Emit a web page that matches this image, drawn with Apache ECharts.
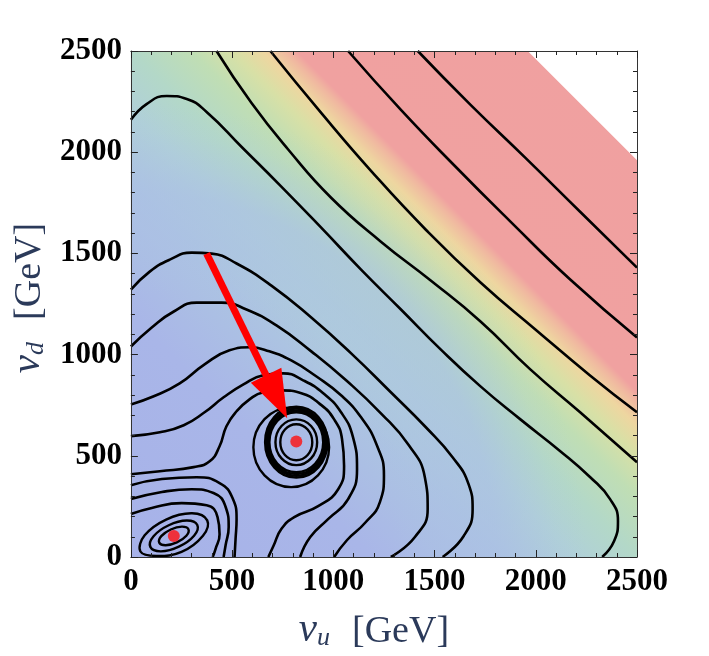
<!DOCTYPE html>
<html>
<head>
<meta charset="utf-8">
<script src="https://cdn.jsdelivr.net/npm/echarts@6/dist/echarts.min.js"></script>
<style>
  html, body { margin: 0; padding: 0; background: #fff; }
  #chart { width: 709px; height: 656px; }
</style>
</head>
<body>
<div id="chart"></div>
<script>
// axes (GeV)
const axisMin = 0;
const axisMax = 2500;
const majorStep = 500;

// background colour read along v_u + v_d (at the plot edges)
const bgSum = [0, 1200, 1800, 2200, 2500, 2800, 3000, 3150, 3260, 3320, 5000];
const bgColor = ['#a7b2e9', '#a9b6e8', '#acc3e2', '#b0d0d8', '#b3d8c8', '#c0deb4',
  '#d8e0a6', '#eed6a0', '#f0b8a0', '#f0a1a0', '#f0a0a0'];
// light-blue tint along the diagonal, by distance from the origin
const tintRadius = [0, 1300, 1600, 1800, 1950, 2100, 2250];
const tintAlpha = [0, 0, 0.5, 0.6, 0.3, 0.08, 0];
// top-right corner where the potential is not plotted
const blankRegion = [[1960, 2500], [2500, 2500], [2500, 1960]];

// open contour lines, [v_u, v_d] in GeV
const lineR1 = [[1417, 2500], [1678, 2234], [1949, 1972], [2219, 1706], [2500, 1430]];
const lineR2 = [[1073, 2500], [1334, 2209], [1604, 1928], [1875, 1657], [2170, 1371], [2500, 1085]];
const lineY1 = [[689, 2500], [940, 2194], [1186, 1908], [1457, 1617], [1727, 1356], [1998, 1124], [2268, 897], [2500, 715]];
const lineG1 = [[423, 2500], [595, 2244], [778, 2012], [989, 1775], [1235, 1558], [1481, 1366], [1727, 1164], [1973, 927], [2219, 715], [2500, 468]];
const lineC1 = [[0, 2160], [79, 2239], [177, 2278], [276, 2263], [374, 2199], [546, 2027], [743, 1830], [940, 1627], [1137, 1420], [1334, 1223], [1530, 1026], [1727, 843], [1924, 680], [2121, 523], [2269, 394], [2367, 286], [2406, 178], [2387, 79], [2328, 0]];
const lineD1 = [[0, 1321], [93, 1410], [192, 1469], [300, 1504], [399, 1499], [522, 1450], [694, 1341], [891, 1183], [1088, 1006], [1284, 814], [1457, 641], [1589, 493], [1668, 360], [1688, 237], [1644, 104], [1540, 0]];
const lineD2 = [[0, 1040], [103, 1134], [212, 1213], [325, 1257], [448, 1257], [571, 1223], [719, 1144], [891, 1016], [1063, 873], [1235, 710], [1373, 552], [1452, 394], [1466, 237], [1403, 99], [1284, 0]];
const lineD3 = [[0, 754], [113, 794], [241, 858], [364, 952], [487, 1021], [586, 1036], [684, 1016], [792, 971], [915, 893], [1038, 799], [1137, 690], [1215, 552], [1250, 404], [1230, 271], [1156, 168], [1068, 84], [1004, 0]];
const lineD4 = [[0, 597], [143, 616], [261, 651], [364, 715], [458, 789], [556, 853], [654, 898], [753, 907], [851, 873], [950, 809], [1038, 715], [1097, 592], [1117, 434], [1073, 286], [974, 187], [886, 99], [836, 0]];
const lineD5 = [[0, 409], [143, 424], [310, 444], [389, 473], [438, 547], [472, 646], [522, 720], [586, 779], [654, 814], [743, 823], [842, 809], [930, 759], [1004, 680], [1043, 582], [1053, 449], [1024, 335], [925, 251], [807, 197], [743, 138], [704, 54], [679, 0]];
const lineE4 = [[0, 212], [103, 242], [251, 266], [374, 256], [428, 197], [438, 113], [418, 39], [404, 0]];
const lineE5 = [[0, 286], [153, 321], [300, 335], [408, 316], [468, 247], [483, 148], [468, 59], [458, 0]];
const lineE6 = [[0, 355], [153, 385], [325, 394], [438, 365], [502, 291], [522, 187], [517, 89], [512, 0]];

// closed contours around the two minima
const ringA1 = [[284, 137], [252, 150], [197, 136], [150, 103], [140, 71], [172, 58], [227, 72], [274, 105]];
const ringA2 = [[328, 158], [276, 180], [187, 157], [112, 103], [96, 50], [148, 28], [237, 51], [312, 105]];
const ringA3 = [[377, 181], [302, 216], [174, 185], [68, 107], [47, 27], [125, 5], [250, 25], [356, 105]];
const ringB1 = [[896, 567], [873, 630], [817, 656], [761, 630], [738, 567], [761, 504], [817, 478], [873, 504]];
const ringB2 = [[920, 567], [890, 647], [817, 680], [744, 647], [714, 567], [744, 487], [817, 454], [890, 487]];
const ringB3 = [[950, 567], [911, 672], [817, 715], [723, 672], [684, 567], [723, 462], [817, 419], [911, 462]];
const ringB4 = [[957, 567], [916, 678], [817, 724], [718, 678], [677, 567], [718, 456], [817, 410], [916, 456]];
const ringB5 = [[964, 567], [921, 684], [817, 733], [713, 684], [670, 567], [713, 450], [817, 401], [921, 450]];
const ringB6 = [[971, 567], [926, 691], [817, 742], [708, 691], [663, 567], [708, 443], [817, 392], [926, 443]];
const ringB7 = [[979, 542], [924, 681], [792, 739], [660, 681], [605, 542], [660, 403], [792, 345], [924, 403]];

const minima = [[212, 104], [817, 571]];
const arrowFrom = [374, 1499];
const arrowTo = [772, 685];

const openLines = [lineR1, lineR2, lineY1, lineG1, lineC1, lineD1, lineD2, lineD3, lineD4, lineD5, lineE4, lineE5, lineE6];
const rings = [ringA1, ringA2, ringA3, ringB1, ringB2, ringB3, ringB4, ringB5, ringB6, ringB7];

const serif = '"Liberation Serif", "Times New Roman", serif';
const titleColor = '#2b3a5a';

const labelStyle = { fontFamily: serif, fontWeight: 'bold', fontSize: 31, color: '#000' };
const tickStyle = { inside: true, length: 7, lineStyle: { color: '#222', width: 1 } };
const minorStyle = { show: true, splitNumber: 5, length: 4, lineStyle: { color: '#222', width: 1 } };
const lineStyleAxis = { show: true, onZero: false, lineStyle: { color: '#333', width: 1 } };

const nameRich = {
  v: { fontFamily: serif, fontStyle: 'italic', fontSize: 41, color: titleColor, verticalAlign: 'bottom', lineHeight: 44 },
  s: { fontFamily: serif, fontStyle: 'italic', fontSize: 26, color: titleColor, verticalAlign: 'bottom', lineHeight: 32 },
  g: { fontFamily: serif, fontSize: 38, color: titleColor, verticalAlign: 'bottom', lineHeight: 44, padding: [0, 0, 0, 22] }
};

function axisPair(kind) {
  const base = {
    type: 'value', min: axisMin, max: axisMax, interval: majorStep, z: 10,
    axisLine: lineStyleAxis, axisTick: tickStyle, minorTick: minorStyle,
    splitLine: { show: false }, minorSplitLine: { show: false }
  };
  const main = Object.assign({}, base, {
    position: kind === 'x' ? 'bottom' : 'left',
    axisLabel: Object.assign({ margin: 9, formatter: v => String(v) }, labelStyle),
    name: kind === 'x' ? '{v|v}{s|u}{g|[GeV]}' : '{v|v}{s|d}{g|[GeV]}',
    nameLocation: 'middle',
    nameGap: kind === 'x' ? 50 : 75,
    nameTextStyle: { rich: nameRich, padding: kind === 'x' ? [0, 20, 0, 0] : [0, 0, 0, 12] }
  });
  const mirror = Object.assign({}, base, {
    position: kind === 'x' ? 'top' : 'right',
    axisLabel: { show: false }
  });
  return [main, mirror];
}

const chart = echarts.init(document.getElementById('chart'), null, { renderer: 'canvas' });

const series = [];

// smooth colour background of the plot square
series.push({
  type: 'custom', coordinateSystem: 'cartesian2d', silent: true, z: 0,
  data: [[axisMin, axisMin]],
  renderItem: function (params, api) {
    const p0 = api.coord([axisMin, axisMin]);
    const p1 = api.coord([axisMax, axisMax]);
    const rect = { x: p0[0], y: p1[1], width: p1[0] - p0[0], height: p0[1] - p1[1] };
    const stops = bgSum.map((s, i) => ({ offset: s / (2 * axisMax), color: bgColor[i] }));
    const tint = tintRadius.map((r, i) => ({ offset: r / axisMax, color: 'rgba(171,192,229,' + tintAlpha[i] + ')' }));
    const blank = blankRegion.map(p => api.coord(p));
    return {
      type: 'group',
      children: [
        { type: 'rect', shape: rect, style: { fill: new echarts.graphic.LinearGradient(0, 1, 1, 0, stops) } },
        { type: 'rect', shape: rect, style: { fill: new echarts.graphic.RadialGradient(p0[0], p0[1], rect.width, tint, true) } },
        { type: 'polygon', shape: { points: blank }, style: { fill: '#fff' } }
      ]
    };
  }
});

openLines.forEach(function (pts) {
  series.push({
    type: 'line', data: pts, smooth: 0.5, symbol: 'none', silent: true, z: 3,
    lineStyle: { color: '#000', width: 2.6 }
  });
});

series.push({
  type: 'custom', coordinateSystem: 'cartesian2d', silent: true, z: 3,
  data: rings.map(r => r[0]),
  renderItem: function (params, api) {
    const pts = rings[params.dataIndex].map(p => api.coord(p));
    return {
      type: 'polygon',
      shape: { points: pts, smooth: 0.4 },
      style: { fill: null, stroke: '#000', lineWidth: 2.4 }
    };
  }
});

// red arrow
series.push({
  type: 'custom', coordinateSystem: 'cartesian2d', silent: true, z: 5,
  data: [arrowFrom],
  renderItem: function (params, api) {
    const a = api.coord(arrowFrom);
    const b = api.coord(arrowTo);
    const dx = b[0] - a[0], dy = b[1] - a[1];
    const len = Math.hypot(dx, dy);
    const ux = dx / len, uy = dy / len;
    const headLen = 48, headHalf = 17;
    const bx = b[0] - ux * headLen, by = b[1] - uy * headLen;
    return {
      type: 'group',
      children: [
        { type: 'line', shape: { x1: a[0], y1: a[1], x2: bx + ux * 4, y2: by + uy * 4 }, style: { stroke: '#ff0000', lineWidth: 7 } },
        { type: 'polygon', shape: { points: [[b[0], b[1]], [bx - uy * headHalf, by + ux * headHalf], [bx + uy * headHalf, by - ux * headHalf]] }, style: { fill: '#ff0000' } }
      ]
    };
  }
});

series.push({
  type: 'scatter', data: minima, symbolSize: 12, silent: true, z: 6,
  itemStyle: { color: '#ff1010' }
});

const xs = axisPair('x');
const ys = axisPair('y');

chart.setOption({
  animation: false,
  grid: { left: 129, right: 72, top: 51, bottom: 98, containLabel: false },
  xAxis: xs,
  yAxis: ys,
  series: series
});
</script>
</body>
</html>
